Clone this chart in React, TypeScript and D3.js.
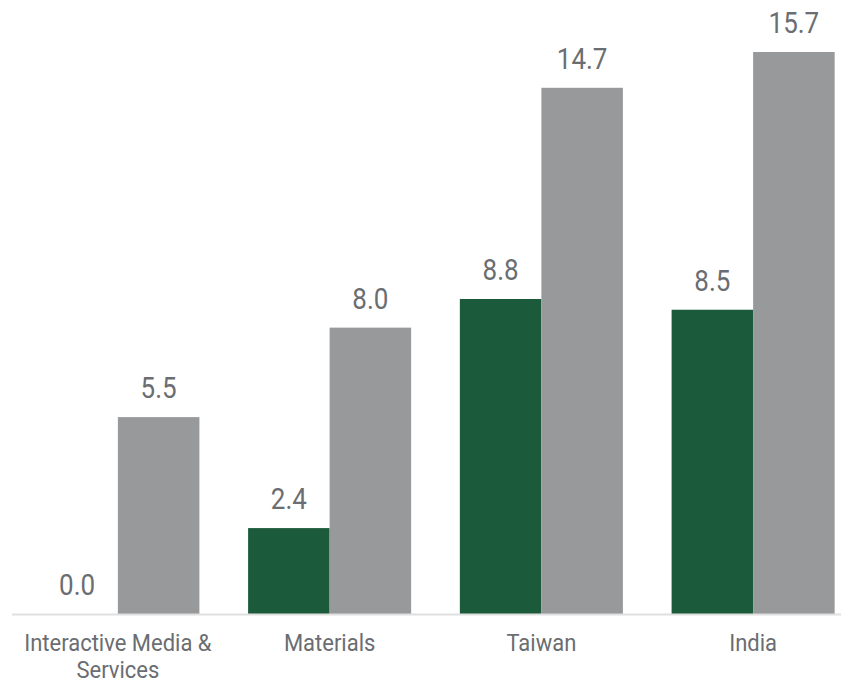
import React from "react";
import * as d3 from "d3";

const categories = [["Interactive Media &", "Services"], ["Materials"], ["Taiwan"], ["India"]];
const seriesA = [0.0, 2.4, 8.8, 8.5];
const seriesB = [5.5, 8.0, 14.7, 15.7];

export default function App() {
  const width = 841;
  const height = 684;
  const baseY = 614;

  const x = d3
    .scaleBand<number>()
    .domain(categories.map((_, i) => i))
    .range([12, 859])
    .paddingInner(0.23)
    .paddingOuter(0.115);

  const sub = d3
    .scaleBand<string>()
    .domain(["a", "b"])
    .range([0, x.bandwidth()]);

  const y = d3.scaleLinear().domain([0, 15.7]).range([baseY, 52]);

  const bars = categories.flatMap((_, i) => [
    { i, key: "a", v: seriesA[i], fill: "#1c5a3c" },
    { i, key: "b", v: seriesB[i], fill: "#98999b" },
  ]);

  return (
    <svg
      width={width}
      height={height}
      style={{ position: "absolute", left: 0, top: 0 }}
      fontFamily="Roboto, sans-serif"
    >
      <rect width={width} height={height} fill="#fff" />
      {bars.map((d) => {
        const bx = (x(d.i) ?? 0) + (sub(d.key) ?? 0);
        const ty = y(d.v) - 19;
        return (
          <g key={d.i + d.key}>
            <rect x={bx} y={y(d.v)} width={sub.bandwidth()} height={baseY - y(d.v)} fill={d.fill} />
            <text
              textAnchor="middle"
              fontSize={26}
              fill="#6a6d71"
              transform={`translate(${bx + sub.bandwidth() / 2} ${ty}) scale(1 1.12)`}
            >
              {d.v.toFixed(1)}
            </text>
          </g>
        );
      })}
      <line x1={12} x2={width} y1={baseY + 0.5} y2={baseY + 0.5} stroke="#e0e0e0" strokeWidth={2} />
      {categories.map((lines, i) => (
        <text
          key={i}
          textAnchor="middle"
          fontSize={22}
          fill="#6a6d71"
          transform={`translate(${(x(i) ?? 0) + x.bandwidth() / 2} 651) scale(1 1.12)`}
        >
          {lines.map((l, j) => (
            <tspan key={j} x={0} y={j * 24.5}>
              {l}
            </tspan>
          ))}
        </text>
      ))}
    </svg>
  );
}
